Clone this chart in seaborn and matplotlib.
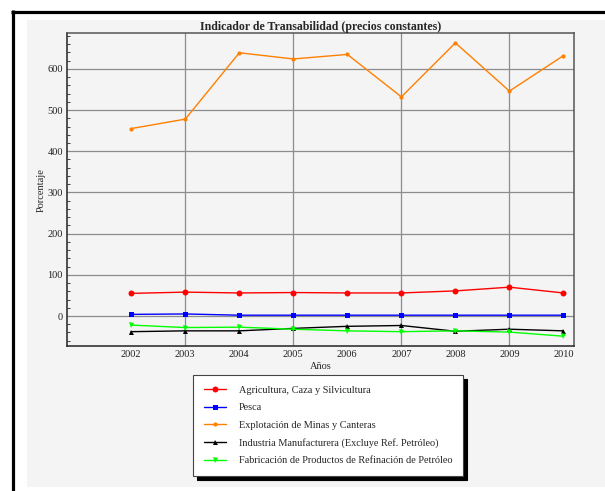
import matplotlib
matplotlib.use("Agg")
import matplotlib.pyplot as plt
import seaborn as sns
from matplotlib.patches import Rectangle
from matplotlib.lines import Line2D
from matplotlib.ticker import MultipleLocator

# datos
years = [2002, 2003, 2004, 2005, 2006, 2007, 2008, 2009, 2010]
agricultura = [55, 58, 56, 57, 56, 56, 61, 70, 56]
pesca = [4, 5, 2, 2, 2, 2, 2, 2, 2]
minas = [455, 478, 639, 624, 635, 532, 663, 546, 632]
industria = [-38, -36, -36, -30, -25, -23, -37, -32, -36]
refinacion = [-22, -28, -27, -32, -36, -38, -36, -39, -49]

labels = [
    "Agricultura, Caza y Silvicultura",
    "Pesca",
    "Explotación de Minas y Canteras",
    "Industria Manufacturera (Excluye Ref. Petróleo)",
    "Fabricación de Productos de Refinación de Petróleo",
]
grid_years = [2003, 2005, 2007, 2009]

sns.set_theme(style="white")
plt.rcParams["font.family"] = ["Liberation Serif", "DejaVu Serif"]

W, H = 605, 491
fig = plt.figure(figsize=(W / 100, H / 100), dpi=100)
fig.patch.set_facecolor("white")

# panel gris y borde negro
fig.patches.append(Rectangle((27 / W, 1 - 487 / H), (W - 27) / W, (487 - 20) / H,
                             transform=fig.transFigure, facecolor="#f4f4f4",
                             edgecolor="none", zorder=-10))
fig.lines.append(Line2D([12.5 / W, 12.5 / W], [0, 1 - 10 / H], transform=fig.transFigure,
                        color="black", lw=2.3, solid_capstyle="butt"))
fig.lines.append(Line2D([11 / W, 1], [1 - 11.7 / H, 1 - 11.7 / H], transform=fig.transFigure,
                        color="black", lw=2.3, solid_capstyle="butt"))

ax = fig.add_axes([67 / W, 1 - 346.3 / H, (573.7 - 67) / W, (346.3 - 33) / H])
ax.set_facecolor("#f4f4f4")

series = [
    (agricultura, "#ff0000", "o", 4.3),
    (pesca, "#0000ff", "s", 3.6),
    (minas, "#ff8000", "o", 3.0),
    (industria, "#000000", "^", 3.6),
    (refinacion, "#00ff00", "v", 3.6),
]
for (vals, col, mk, ms), lab in zip(series, labels):
    sns.lineplot(x=years, y=vals, ax=ax, color=col, marker=mk, markersize=ms,
                 markeredgewidth=0, linewidth=1.0, label=lab, zorder=3)

ax.set_xlim(2000.81, 2010.19)
ax.set_ylim(-73.5, 687)
ax.set_xticks(years)
ax.yaxis.set_major_locator(MultipleLocator(100))
ax.yaxis.set_minor_locator(MultipleLocator(20))
ax.tick_params(axis="both", which="both", direction="in", labelsize=7.5, colors="#222222")
ax.tick_params(axis="y", which="major", length=4, width=0.8, pad=3)
ax.tick_params(axis="y", which="minor", length=2.2, width=0.6, left=True)
ax.tick_params(axis="x", which="major", length=3, width=0.8, pad=2.5)

for y in range(0, 700, 100):
    ax.axhline(y, color="#8c8c8c", lw=0.9, zorder=1)
for x in grid_years:
    ax.axvline(x, color="#8c8c8c", lw=0.9, zorder=1)

for side in ["left", "bottom"]:
    ax.spines[side].set_color("#222222")
    ax.spines[side].set_linewidth(1.1)
for side in ["right", "top"]:
    ax.spines[side].set_color("#555555")
    ax.spines[side].set_linewidth(1.1)

ax.set_title("Indicador de Transabilidad (precios constantes)", fontsize=8.6,
             fontweight="bold", pad=2)
ax.set_xlabel("Años", fontsize=7.5, labelpad=2.5)
ax.set_ylabel("Porcentaje", fontsize=7.5, labelpad=1.5)

leg = ax.legend(loc="upper left", bbox_to_anchor=(193 / W, 1 - 375 / H),
                bbox_transform=fig.transFigure, fontsize=7.4, frameon=True,
                fancybox=False, framealpha=1, edgecolor="#444444",
                shadow={"ox": 3, "oy": -3, "color": "black", "alpha": 1},
                handlelength=2.14, handletextpad=1.25, labelspacing=0.8,
                borderpad=1.05, borderaxespad=0)
leg.get_frame().set_linewidth(0.8)

fig.savefig("out.png", dpi=100)
